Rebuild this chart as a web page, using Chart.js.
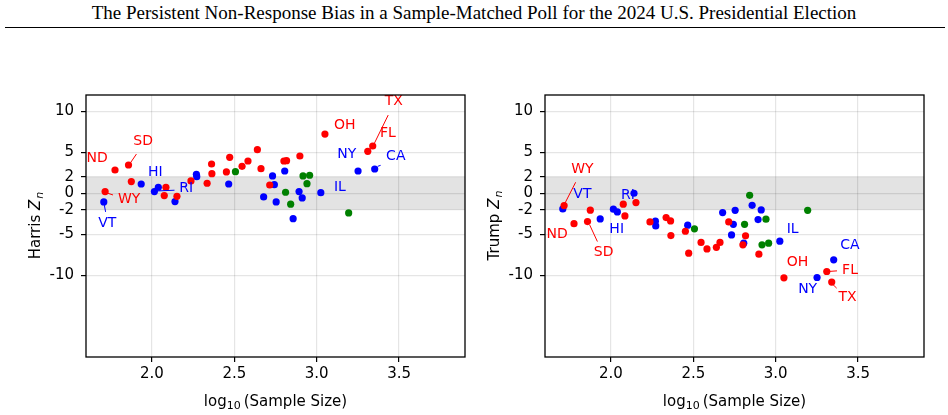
<!DOCTYPE html>
<html>
<head>
<meta charset="utf-8">
<script src="https://cdn.jsdelivr.net/npm/chart.js@4.4.1/dist/chart.umd.min.js"></script>
<style>
  body { margin: 0; width: 948px; height: 415px; background: #fff; overflow: hidden; position: relative; }
  #title { position: absolute; top: 2px; left: 0; width: 948px; text-align: center;
           font-family: "Liberation Serif", "DejaVu Serif", serif; font-size: 19px; color: #000; }
  #rule { position: absolute; left: 5px; width: 940px; top: 27px; height: 0; border-top: 1.5px solid #000; }
  canvas { position: absolute; top: 40px; }
</style>
</head>
<body>
<div id="title">The Persistent Non-Response Bias in a Sample-Matched Poll for the 2024 U.S. Presidential Election</div>
<div id="rule"></div>
<canvas id="harrisChart" width="474" height="375" style="left:0"></canvas>
<canvas id="trumpChart" width="474" height="375" style="left:474px"></canvas>
<script>
const RED = "#ff0000", BLUE = "#0000ff", GREEN = "#008000";

// log10(sample size) per state, grouped by 2024 winner
const redLogN   = [1.716, 1.776, 1.858, 1.875, 2.075, 2.085, 2.152, 2.237, 2.335, 2.362, 2.364, 2.452,
                   2.472, 2.547, 2.583, 2.640, 2.662, 2.715, 2.801, 2.817, 2.898, 3.050, 3.310, 3.340];
const redHarris = [0.2, 2.84, 3.45, 1.42, -0.29, 0.73, -0.37, 1.5, 1.22, 3.57, 2.39, 2.6,
                   4.39, 3.29, 3.94, 5.32, 3.0, 1.01, 3.94, 3.98, 4.55, 7.23, 5.12, 5.77];
const redTrump  = [-1.51, -3.71, -3.46, -2.07, -1.34, -2.77, -1.14, -3.5, -2.97, -3.38, -5.17, -4.64,
                   -7.32, -6.0, -6.8, -6.6, -6.0, -3.5, -6.3, -5.2, -7.44, -10.33, -9.56, -10.85];

const blueLogN   = [1.708, 1.935, 2.015, 2.039, 2.140, 2.270, 2.272, 2.466, 2.678, 2.732,
                    2.743, 2.754, 2.806, 2.857, 2.893, 2.912, 3.025, 3.251, 3.352];
const blueHarris = [-1.06, 1.13, 0.2, 0.73, -1.02, 2.32, 2.03, 1.13, -0.45, 2.11,
                    1.05, -1.06, 2.72, -3.1, 0.2, -0.57, 0.07, 2.72, 2.96];
const blueTrump  = [-1.91, -3.13, -1.95, -2.28, 0.0, -3.41, -3.99, -3.9, -2.36, -5.09,
                    -3.79, -2.08, -6.1, -1.47, -3.22, -2.04, -5.85, -10.29, -8.13];

const greenLogN   = [2.507, 2.811, 2.842, 2.917, 2.941, 2.957, 3.194];
const greenHarris = [2.63, 0.12, -1.34, 2.11, 1.17, 2.2, -2.4];
const greenTrump  = [-4.35, -3.79, -0.25, -6.3, -3.17, -6.1, -2.08];

const xTicks = [2.0, 2.5, 3.0, 3.5];
const yTicks = [-10, -5, -2, 0, 2, 5, 10];

// state labels: [text, x, y, colour] and leader lines [x1, y1, x2, y2, colour]
const harrisLabels = [
  ["ND", 1.668, 4.3, RED], ["SD", 1.947, 6.38, RED], ["WY", 1.862, -0.7, RED],
  ["VT", 1.729, -3.7, BLUE], ["HI", 2.02, 2.6, BLUE], ["RI", 2.208, 0.65, BLUE],
  ["OH", 3.171, 8.33, RED], ["TX", 3.468, 11.26, RED], ["FL", 3.432, 7.35, RED],
  ["NY", 3.183, 4.79, BLUE], ["CA", 3.48, 4.55, BLUE], ["IL", 3.141, 0.77, BLUE]
];
const harrisLeaders = [
  [1.906, 4.79, 1.869, 3.69, RED], [1.733, 0, 1.764, -0.21, RED],
  [1.711, -1.43, 1.719, -2.28, BLUE], [2.03, 0.28, 2.137, 0.37, BLUE],
  [3.345, 5.89, 3.434, 9.55, RED], [3.37, 3.29, 3.388, 3.41, BLUE]
];
const trumpLabels = [
  ["WY", 1.827, 2.93, RED], ["VT", 1.827, -0.12, BLUE], ["RI", 2.103, -0.2, BLUE],
  ["ND", 1.673, -5.0, RED], ["HI", 2.035, -4.35, BLUE], ["SD", 1.956, -7.24, RED],
  ["IL", 3.103, -4.35, BLUE], ["CA", 3.451, -6.39, BLUE], ["OH", 3.133, -8.46, RED],
  ["FL", 3.451, -9.44, RED], ["NY", 3.194, -11.79, BLUE], ["TX", 3.436, -12.73, RED]
];
const trumpLeaders = [
  [1.786, 1.34, 1.719, -1.3, RED], [1.871, -3.86, 1.918, -5.9, RED],
  [3.315, -9.56, 3.372, -9.48, RED], [3.345, -11.1, 3.37, -11.59, RED]
];

const FONT = "'DejaVu Sans', sans-serif";

function points(xs, ys) {
  return xs.map((x, i) => ({ x: x, y: ys[i] }));
}

// grey band for |Z| < 2, drawn under the grid
const bandPlugin = {
  id: "band",
  beforeDraw(chart) {
    const { ctx, chartArea, scales } = chart;
    const top = scales.y.getPixelForValue(2);
    const bottom = scales.y.getPixelForValue(-2);
    ctx.save();
    ctx.fillStyle = "#e3e3e3";
    ctx.fillRect(chartArea.left, top, chartArea.right - chartArea.left, bottom - top);
    ctx.restore();
  }
};

// frame, axis titles and state labels
const decorPlugin = {
  id: "decor",
  afterDraw(chart, args, opts) {
    const { ctx, chartArea, scales } = chart;
    const xs = scales.x, ys = scales.y;
    ctx.save();

    // leader lines
    ctx.lineWidth = 1;
    opts.leaders.forEach(l => {
      ctx.strokeStyle = l[4];
      ctx.beginPath();
      ctx.moveTo(xs.getPixelForValue(l[0]), ys.getPixelForValue(l[1]));
      ctx.lineTo(xs.getPixelForValue(l[2]), ys.getPixelForValue(l[3]));
      ctx.stroke();
    });

    // labels
    ctx.font = "14px " + FONT;
    ctx.textAlign = "center";
    ctx.textBaseline = "middle";
    opts.labels.forEach(l => {
      ctx.fillStyle = l[3];
      ctx.fillText(l[0], xs.getPixelForValue(l[1]), ys.getPixelForValue(l[2]));
    });

    // frame
    ctx.strokeStyle = "#000";
    ctx.lineWidth = 1.3;
    ctx.strokeRect(chartArea.left, chartArea.top, chartArea.right - chartArea.left, chartArea.bottom - chartArea.top);

    // x title: log10(Sample Size)
    ctx.fillStyle = "#000";
    ctx.textAlign = "left";
    ctx.textBaseline = "alphabetic";
    const big = "15px " + FONT, small = "11px " + FONT;
    ctx.font = big;
    const w1 = ctx.measureText("log").width;
    const w3 = ctx.measureText("(Sample Size)").width;
    ctx.font = small;
    const w2 = ctx.measureText("10").width + 3;
    let x = (chartArea.left + chartArea.right) / 2 - (w1 + w2 + w3) / 2;
    const yb = chartArea.bottom + 49;
    ctx.font = big;
    ctx.fillText("log", x, yb);
    ctx.font = small;
    ctx.fillText("10", x + w1, yb + 3);
    ctx.font = big;
    ctx.fillText("(Sample Size)", x + w1 + w2, yb);

    // y title: <name> Z_n
    ctx.translate(chartArea.left - 46, (chartArea.top + chartArea.bottom) / 2);
    ctx.rotate(-Math.PI / 2);
    ctx.font = big;
    const n1 = ctx.measureText(opts.name + " ").width;
    ctx.font = "italic 15px " + FONT;
    const n2 = ctx.measureText("Z").width;
    ctx.font = "italic 11px " + FONT;
    const n3 = ctx.measureText("n").width;
    x = -(n1 + n2 + n3) / 2;
    ctx.font = big;
    ctx.fillText(opts.name + " ", x, 0);
    ctx.font = "italic 15px " + FONT;
    ctx.fillText("Z", x + n1, 0);
    ctx.font = "italic 11px " + FONT;
    ctx.fillText("n", x + n1 + n2 + 1, 3);
    ctx.restore();
  }
};

function makeChart(id, name, redY, blueY, greenY, labels, leaders, yWidth, rightPad) {
  const ctx = document.getElementById(id).getContext("2d");
  return new Chart(ctx, {
    type: "scatter",
    data: {
      datasets: [
        { data: points(redLogN, redY), backgroundColor: RED },
        { data: points(blueLogN, blueY), backgroundColor: BLUE },
        { data: points(greenLogN, greenY), backgroundColor: GREEN }
      ]
    },
    options: {
      responsive: false,
      animation: false,
      devicePixelRatio: 1,
      layout: { padding: { top: 55, right: rightPad, left: 0, bottom: 0 } },
      elements: { point: { radius: 3.6, borderWidth: 0, hoverRadius: 3.6 } },
      plugins: {
        legend: { display: false },
        tooltip: { enabled: false },
        decor: { name: name, labels: labels, leaders: leaders }
      },
      scales: {
        x: {
          type: "linear",
          min: 1.6,
          max: 3.9,
          afterBuildTicks: s => { s.ticks = xTicks.map(v => ({ value: v })); },
          afterFit: s => { s.height = 58; },
          border: { display: false },
          grid: { color: "rgba(0,0,0,0.1)", lineWidth: 1.2, tickLength: 5, tickColor: "#000", tickWidth: 1.2 },
          ticks: { color: "#000", font: { family: FONT, size: 15 }, padding: 3,
                   callback: v => Number(v).toFixed(1), maxRotation: 0 }
        },
        y: {
          type: "linear",
          min: -20,
          max: 12,
          afterBuildTicks: s => { s.ticks = yTicks.map(v => ({ value: v })); },
          afterFit: s => { s.width = yWidth; },
          border: { display: false },
          grid: { color: "rgba(0,0,0,0.1)", lineWidth: 1.2, tickLength: 5, tickColor: "#000", tickWidth: 1.2 },
          ticks: { color: "#000", font: { family: FONT, size: 15 }, padding: 7 }
        }
      }
    },
    plugins: [bandPlugin, decorPlugin]
  });
}

makeChart("harrisChart", "Harris", redHarris, blueHarris, greenHarris, harrisLabels, harrisLeaders, 86, 9);
makeChart("trumpChart", "Trump", redTrump, blueTrump, greenTrump, trumpLabels, trumpLeaders, 71, 24);
</script>
</body>
</html>
